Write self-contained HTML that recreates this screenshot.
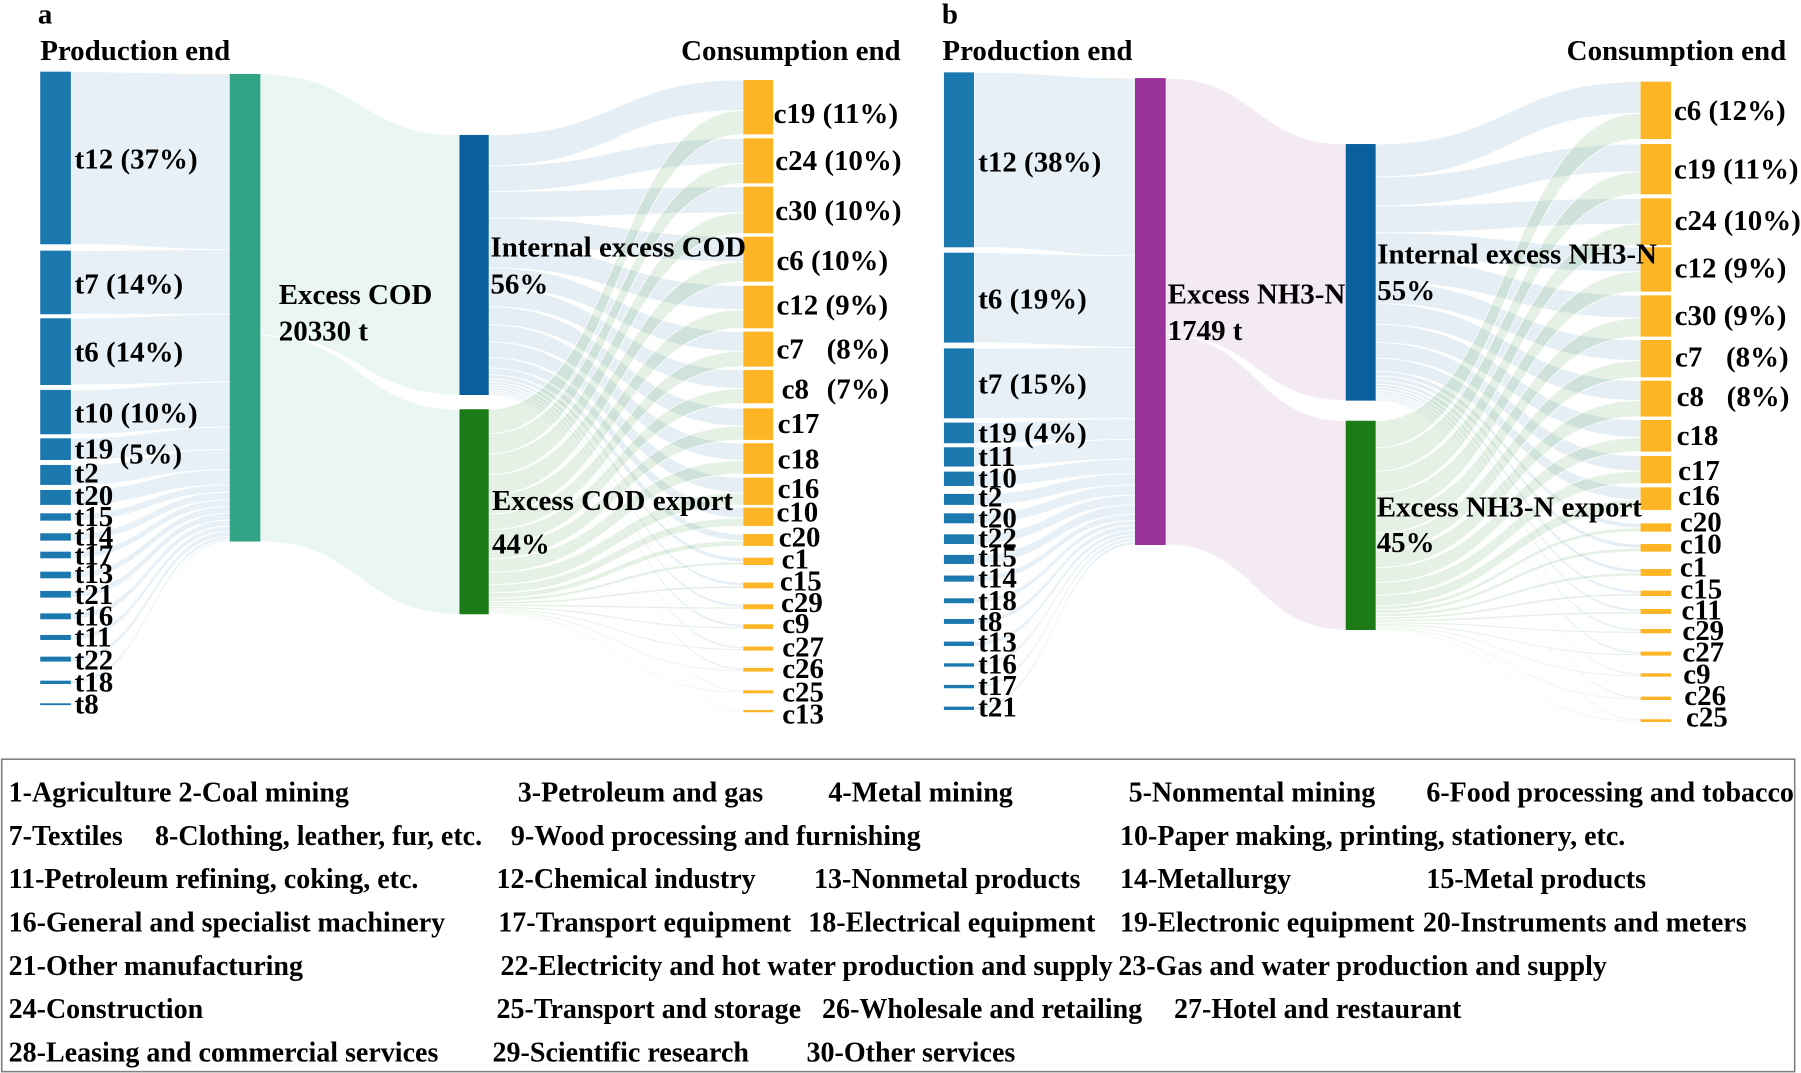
<!DOCTYPE html>
<html>
<head>
<meta charset="utf-8">
<style>
html,body{margin:0;padding:0;background:#fff;}
svg{display:block;}
text{font-family:"Liberation Serif","Times New Roman",serif;font-weight:bold;fill:#000;}
.t{font-size:25.2px;}
.lg{font-size:24.4px;}
</style>
</head>
<body>
<svg id="S" xmlns="http://www.w3.org/2000/svg" width="1801" height="1073" viewBox="0 0 1568 934.19" preserveAspectRatio="none">
<rect x="0" y="0" width="1568" height="934.19" fill="#fff"/>
<g id="flows"></g>

<!-- ===== Panel a nodes ===== -->
<g fill="#1c79b0">
<rect x="35" y="62.4" width="26.7" height="150.3"/>
<rect x="35" y="218.2" width="26.7" height="55.4"/>
<rect x="35" y="277.1" width="26.7" height="58.1"/>
<rect x="35" y="339.5" width="26.7" height="38.6"/>
<rect x="35" y="381.6" width="26.7" height="18.9"/>
<rect x="35" y="404.8" width="26.7" height="17.4"/>
<rect x="35" y="426.6" width="26.7" height="13"/>
<rect x="35" y="446.9" width="26.7" height="6.4"/>
<rect x="35" y="464.3" width="26.7" height="6.4"/>
<rect x="35" y="480.3" width="26.7" height="5.8"/>
<rect x="35" y="497.7" width="26.7" height="5.8"/>
<rect x="35" y="514.5" width="26.7" height="5.8"/>
<rect x="35" y="534" width="26.7" height="5.2"/>
<rect x="35" y="552.8" width="26.7" height="4.4"/>
<rect x="35" y="571.7" width="26.7" height="4.3"/>
<rect x="35" y="592.6" width="26.7" height="2.9"/>
<rect x="35" y="612.3" width="26.7" height="1.6"/>
</g>
<rect x="200" y="64.4" width="26.7" height="407.1" fill="#32a485"/>
<rect x="400" y="117.5" width="25.5" height="226.4" fill="#0a609c"/>
<rect x="400" y="356.3" width="25.5" height="178.5" fill="#1b7b16"/>
<g fill="#fdb525">
<rect x="647.1" y="69.6" width="26.1" height="47.4"/>
<rect x="647.1" y="120.4" width="26.1" height="39.2"/>
<rect x="647.1" y="162.5" width="26.1" height="40.6"/>
<rect x="647.1" y="206" width="26.1" height="39.2"/>
<rect x="647.1" y="248.7" width="26.1" height="37.1"/>
<rect x="647.1" y="288.7" width="26.1" height="30.5"/>
<rect x="647.1" y="322.1" width="26.1" height="29"/>
<rect x="647.1" y="355.5" width="26.1" height="27.5"/>
<rect x="647.1" y="385.9" width="26.1" height="26.7"/>
<rect x="647.1" y="415.8" width="26.1" height="23.8"/>
<rect x="647.1" y="442" width="26.1" height="15.9"/>
<rect x="647.1" y="464.9" width="26.1" height="10.4"/>
<rect x="647.1" y="485.5" width="26.1" height="6.4"/>
<rect x="647.1" y="507.2" width="26.1" height="5"/>
<rect x="647.1" y="526.1" width="26.1" height="4.3"/>
<rect x="647.1" y="543.5" width="26.1" height="4.1"/>
<rect x="647.1" y="562.9" width="26.1" height="3.5"/>
<rect x="647.1" y="581.5" width="26.1" height="3.2"/>
<rect x="647.1" y="601" width="26.1" height="2.6"/>
<rect x="647.1" y="618.1" width="26.1" height="2"/>
</g>

<!-- ===== Panel b nodes ===== -->
<g fill="#1c79b0">
<rect x="821.8" y="63" width="26.2" height="152.3"/>
<rect x="821.8" y="220" width="26.2" height="78.3"/>
<rect x="821.8" y="303.3" width="26.2" height="60.9"/>
<rect x="821.8" y="367.9" width="26.2" height="18"/>
<rect x="821.8" y="389.4" width="26.2" height="16.8"/>
<rect x="821.8" y="410.6" width="26.2" height="12.5"/>
<rect x="821.8" y="430" width="26.2" height="9.6"/>
<rect x="821.8" y="446.9" width="26.2" height="8.7"/>
<rect x="821.8" y="465.2" width="26.2" height="8.4"/>
<rect x="821.8" y="483.1" width="26.2" height="7.9"/>
<rect x="821.8" y="501.1" width="26.2" height="5.3"/>
<rect x="821.8" y="520.9" width="26.2" height="4.3"/>
<rect x="821.8" y="538.9" width="26.2" height="4.3"/>
<rect x="821.8" y="558.6" width="26.2" height="3.8"/>
<rect x="821.8" y="577.5" width="26.2" height="2.9"/>
<rect x="821.8" y="596.3" width="26.2" height="2.9"/>
<rect x="821.8" y="615.2" width="26.2" height="2.9"/>
</g>
<rect x="988.1" y="68" width="26.8" height="406.5" fill="#983298"/>
<rect x="1171.6" y="125.4" width="26.1" height="223.4" fill="#0a609c"/>
<rect x="1171.6" y="366.3" width="26.1" height="182.2" fill="#1b7b16"/>
<g fill="#fdb525">
<rect x="1428.3" y="71.1" width="26.6" height="49.9"/>
<rect x="1428.3" y="125.4" width="26.6" height="43.8"/>
<rect x="1428.3" y="172.7" width="26.6" height="40.6"/>
<rect x="1428.3" y="215.3" width="26.6" height="38.6"/>
<rect x="1428.3" y="257.1" width="26.6" height="36"/>
<rect x="1428.3" y="296" width="26.6" height="32.5"/>
<rect x="1428.3" y="331.4" width="26.6" height="31.3"/>
<rect x="1428.3" y="365.6" width="26.6" height="27.6"/>
<rect x="1428.3" y="397" width="26.6" height="23.8"/>
<rect x="1428.3" y="424.3" width="26.6" height="19.7"/>
<rect x="1428.3" y="455.6" width="26.6" height="7.3"/>
<rect x="1428.3" y="473.6" width="26.6" height="6.7"/>
<rect x="1428.3" y="495.4" width="26.6" height="6"/>
<rect x="1428.3" y="514.2" width="26.6" height="4.7"/>
<rect x="1428.3" y="530.2" width="26.6" height="4.3"/>
<rect x="1428.3" y="547.6" width="26.6" height="3.8"/>
<rect x="1428.3" y="567.3" width="26.6" height="3.5"/>
<rect x="1428.3" y="586.2" width="26.6" height="2.9"/>
<rect x="1428.3" y="606.5" width="26.6" height="2.9"/>
<rect x="1428.3" y="626.2" width="26.6" height="2.4"/>
</g>

<!-- ===== Panel a text ===== -->
<g class="t">
<text x="33" y="20.3">a</text>
<text x="35" y="52.2">Production end</text>
<text x="593" y="52.2">Consumption end</text>
<text x="65" y="146.5">t12 (37%)</text>
<text x="65" y="255.4">t7 (14%)</text>
<text x="65" y="314.9">t6 (14%)</text>
<text x="65" y="367.9">t10 (10%)</text>
<text x="65" y="399">t19</text><text x="104" y="403.4">(5%)</text>
<text x="65" y="420.2">t2</text>
<text x="65" y="439.6">t20</text>
<text x="65" y="457.9">t15</text>
<text x="65" y="475">t14</text>
<text x="65" y="491.3">t17</text>
<text x="65" y="507.8">t13</text>
<text x="65" y="525.8">t21</text>
<text x="65" y="544.7">t16</text>
<text x="65" y="563">t11</text>
<text x="65" y="582.7">t22</text>
<text x="65" y="602.1">t18</text>
<text x="65" y="621">t8</text>

<text x="242.7" y="264.6">Excess COD</text>
<text x="242.7" y="296.6">20330 t</text>
<text x="427" y="223.5">Internal excess COD</text>
<text x="427" y="255.4">56%</text>
<text x="428.3" y="444">Excess COD export</text>
<text x="428.3" y="481.7">44%</text>

<text x="673.5" y="107">c19 (11%)</text>
<text x="675" y="148">c24 (10%)</text>
<text x="675" y="191.5">c30 (10%)</text>
<text x="676" y="235">c6 (10%)</text>
<text x="676" y="274">c12 (9%)</text>
<text x="676" y="312">c7</text><text x="719.7" y="312">(8%)</text>
<text x="680.5" y="347">c8</text><text x="719.7" y="347">(7%)</text>
<text x="677" y="377.2">c17</text>
<text x="677" y="407.7">c18</text>
<text x="677" y="433.8">c16</text>
<text x="676" y="454.1">c10</text>
<text x="678" y="475.9">c20</text>
<text x="680.5" y="494.8">c1</text>
<text x="679" y="514.2">c15</text>
<text x="680" y="533">c29</text>
<text x="681" y="551.3">c9</text>
<text x="681" y="571.7">c27</text>
<text x="681" y="590.5">c26</text>
<text x="681" y="610.8">c25</text>
<text x="681" y="629.7">c13</text>
</g>

<!-- ===== Panel b text ===== -->
<g class="t">
<text x="820" y="20.3">b</text>
<text x="820.5" y="52.2">Production end</text>
<text x="1364" y="52.2">Consumption end</text>
<text x="851.7" y="149.5">t12 (38%)</text>
<text x="851.7" y="268.4">t6 (19%)</text>
<text x="851.7" y="342.4">t7 (15%)</text>
<text x="851.7" y="385.3">t19 (4%)</text>
<text x="851.7" y="405.7">t11</text>
<text x="851.7" y="424.5">t10</text>
<text x="851.7" y="441">t2</text>
<text x="851.7" y="459.3">t20</text>
<text x="851.7" y="476.8">t22</text>
<text x="851.7" y="493.3">t15</text>
<text x="851.7" y="511.6">t14</text>
<text x="851.7" y="531">t18</text>
<text x="851.7" y="549.3">t8</text>
<text x="851.7" y="567.3">t13</text>
<text x="851.7" y="586.2">t16</text>
<text x="851.7" y="605">t17</text>
<text x="851.7" y="623.9">t21</text>

<text x="1016.6" y="264.1">Excess NH3-N</text>
<text x="1016.6" y="296">1749 t</text>
<text x="1199.1" y="229.3">Internal excess NH3-N</text>
<text x="1199.1" y="261.2">55%</text>
<text x="1198.6" y="449.8">Excess NH3-N export</text>
<text x="1198.6" y="480.8">45%</text>

<text x="1457.4" y="104.5">c6 (12%)</text>
<text x="1457.4" y="155.3">c19 (11%)</text>
<text x="1458" y="200.2">c24 (10%)</text>
<text x="1458" y="241.4">c12 (9%)</text>
<text x="1458" y="283">c30 (9%)</text>
<text x="1458.3" y="319.2">c7</text><text x="1502.7" y="319.2">(8%)</text>
<text x="1459.7" y="353.4">c8</text><text x="1503.3" y="353.4">(8%)</text>
<text x="1459.7" y="387.4">c18</text>
<text x="1461" y="417.9">c17</text>
<text x="1461" y="439.6">c16</text>
<text x="1462.6" y="462.9">c20</text>
<text x="1462.6" y="481.7">c10</text>
<text x="1462.6" y="502">c1</text>
<text x="1463" y="520.9">c15</text>
<text x="1464" y="539.2">c11</text>
<text x="1464.7" y="557.2">c29</text>
<text x="1464.7" y="576">c27</text>
<text x="1465.5" y="594.9">c9</text>
<text x="1466.4" y="613.8">c26</text>
<text x="1467.9" y="632.6">c25</text>
</g>

<!-- ===== Legend ===== -->
<rect x="1.5" y="661" width="1561" height="272" fill="none" stroke="#808080" stroke-width="1.4"/>
<g class="lg">
<text x="7.5" y="697.9">1-Agriculture 2-Coal mining</text>
<text x="450.8" y="697.9">3-Petroleum and gas</text>
<text x="721.2" y="697.9">4-Metal mining</text>
<text x="982.6" y="697.9">5-Nonmental mining</text>
<text x="1241.8" y="697.9">6-Food processing and tobacco</text>

<text x="7.5" y="735.6">7-Textiles</text>
<text x="135" y="735.6">8-Clothing, leather, fur, etc.</text>
<text x="444.8" y="735.6">9-Wood processing and furnishing</text>
<text x="975.1" y="735.6">10-Paper making, printing, stationery, etc.</text>

<text x="7.5" y="773.3">11-Petroleum refining, coking, etc.</text>
<text x="432.3" y="773.3">12-Chemical industry</text>
<text x="708.7" y="773.3">13-Nonmetal products</text>
<text x="975.1" y="773.3">14-Metallurgy</text>
<text x="1241.8" y="773.3">15-Metal products</text>

<text x="7.5" y="811">16-General and specialist machinery</text>
<text x="433.8" y="811">17-Transport equipment</text>
<text x="703.7" y="811">18-Electrical equipment</text>
<text x="975.1" y="811">19-Electronic equipment</text>
<text x="1238.8" y="811">20-Instruments and meters</text>

<text x="7.5" y="848.8">21-Other manufacturing</text>
<text x="435.8" y="848.8">22-Electricity and hot water production and supply</text>
<text x="973.6" y="848.8">23-Gas and water production and supply</text>

<text x="7.5" y="886.5">24-Construction</text>
<text x="432.3" y="886.5">25-Transport and storage</text>
<text x="715.7" y="886.5">26-Wholesale and retailing</text>
<text x="1022.1" y="886.5">27-Hotel and restaurant</text>

<text x="7.5" y="924.2">28-Leasing and commercial services</text>
<text x="428.8" y="924.2">29-Scientific research</text>
<text x="702.2" y="924.2">30-Other services</text>
</g>
</svg>

<script>
(function(){
var NS='http://www.w3.org/2000/svg';
var g=document.getElementById('flows');
function link(x0,y0a,y0b,x1,y1a,y1b,fill){
  var xm=(x0+x1)/2;
  var d='M'+x0+','+y0a+'C'+xm+','+y0a+' '+xm+','+y1a+' '+x1+','+y1a+
        'L'+x1+','+y1b+'C'+xm+','+y1b+' '+xm+','+y0b+' '+x0+','+y0b+'Z';
  var p=document.createElementNS(NS,'path');
  p.setAttribute('d',d);
  p.setAttribute('fill',fill);
  p.setAttribute('stroke','#ffffff');
  p.setAttribute('stroke-width','0.8');
  p.setAttribute('stroke-opacity','0.85');
  g.appendChild(p);
}
function panel(P){
  var tot=0,i,n;
  for(i=0;i<P.left.length;i++){tot+=P.left[i][1]-P.left[i][0];}
  var k=(P.mid[1]-P.mid[0])/tot, y=P.mid[0];
  for(i=0;i<P.left.length;i++){n=P.left[i];var h=(n[1]-n[0])*k;
    link(P.lx1,n[0],n[1],P.mx0,y,y+h,P.c1);y+=h;}
  var hi=P.int[1]-P.int[0], he=P.exp[1]-P.exp[0], mh=P.mid[1]-P.mid[0];
  var split=P.mid[0]+mh*hi/(hi+he);
  link(P.mx1,P.mid[0],split,P.ix0,P.int[0],P.int[1],P.c2);
  link(P.mx1,split,P.mid[1],P.ix0,P.exp[0],P.exp[1],P.c2);
  var f=hi/(hi+he), rt=0;
  for(i=0;i<P.right.length;i++){rt+=P.right[i][1]-P.right[i][0];}
  var ki=hi/(rt*f), ke=he/(rt*(1-f));
  var yi=P.int[0], ye=P.exp[0];
  for(i=0;i<P.right.length;i++){n=P.right[i];var hh=n[1]-n[0],a=hh*f;
    link(P.ix1,yi,yi+a*ki,P.rx0,n[0],n[0]+a,P.c3);yi+=a*ki;}
  for(i=0;i<P.right.length;i++){n=P.right[i];var hh2=n[1]-n[0],a2=hh2*f,b=hh2*(1-f);
    link(P.ix1,ye,ye+b*ke,P.rx0,n[0]+a2,n[1],P.c4);ye+=b*ke;}
}
panel({
  lx1:61.7, mx0:200, mx1:226.7, ix0:400, ix1:425.5, rx0:647.1,
  mid:[64.4,471.5], int:[117.5,343.9], exp:[356.3,534.8],
  left:[[62.4,212.7],[218.2,273.6],[277.1,335.2],[339.5,378.1],[381.6,400.5],[404.8,422.2],[426.6,439.6],[446.9,453.3],[464.3,470.7],[480.3,486.1],[497.7,503.5],[514.5,520.3],[534,539.2],[552.8,557.2],[571.7,576],[592.6,595.5],[612.3,613.9]],
  right:[[69.6,117],[120.4,159.6],[162.5,203.1],[206,245.2],[248.7,285.8],[288.7,319.2],[322.1,351.1],[355.5,383],[385.9,412.6],[415.8,439.6],[442,457.9],[464.9,475.3],[485.5,491.9],[507.2,512.2],[526.1,530.4],[543.5,547.6],[562.9,566.4],[581.5,584.7],[601,603.6],[618.1,620.1]],
  c1:'rgba(28,121,176,0.11)', c2:'rgba(50,164,133,0.10)', c3:'rgba(10,96,156,0.11)', c4:'rgba(27,123,22,0.11)'
});
panel({
  lx1:848, mx0:988.1, mx1:1014.9, ix0:1171.6, ix1:1197.7, rx0:1428.3,
  mid:[68,474.5], int:[125.4,348.8], exp:[366.3,548.5],
  left:[[63,215.3],[220,298.3],[303.3,364.2],[367.9,385.9],[389.4,406.2],[410.6,423.1],[430,439.6],[446.9,455.6],[465.2,473.6],[483.1,491],[501.1,506.4],[520.9,525.2],[538.9,543.2],[558.6,562.4],[577.5,580.4],[596.3,599.2],[615.2,618.1]],
  right:[[71.1,121],[125.4,169.2],[172.7,213.3],[215.3,253.9],[257.1,293.1],[296,328.5],[331.4,362.7],[365.6,393.2],[397,420.8],[424.3,444],[455.6,462.9],[473.6,480.3],[495.4,501.4],[514.2,518.9],[530.2,534.5],[547.6,551.4],[567.3,570.8],[586.2,589.1],[606.5,609.4],[626.2,628.6]],
  c1:'rgba(28,121,176,0.11)', c2:'rgba(152,50,152,0.10)', c3:'rgba(10,96,156,0.11)', c4:'rgba(27,123,22,0.11)'
});
})();
</script>
</body>
</html>
